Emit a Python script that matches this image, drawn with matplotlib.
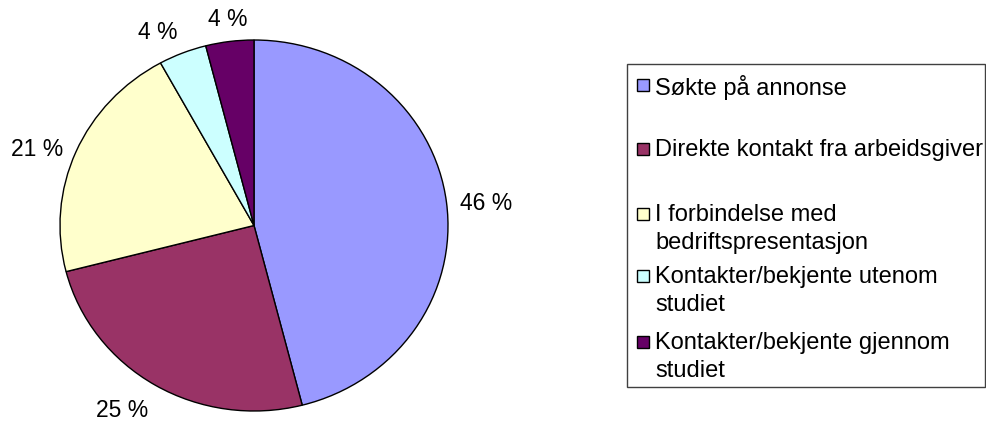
import numpy as np
import matplotlib
matplotlib.use('Agg')
import matplotlib.pyplot as plt
from matplotlib.patches import Rectangle


categories = [
    "Søkte på annonse",
    "Direkte kontakt fra arbeidsgiver",
    "I forbindelse med\nbedriftspresentasjon",
    "Kontakter/bekjente utenom\nstudiet",
    "Kontakter/bekjente gjennom\nstudiet",
]
shares = [46, 25, 21, 4, 4]
colors = ["#9999FF", "#993366", "#FFFFCC", "#CCFFFF", "#660066"]

W, H = 986, 425
plt.rcParams['font.family'] = ['Liberation Sans', 'DejaVu Sans']

fig = plt.figure(figsize=(W / 100, H / 100), dpi=100)


def fx(px):
    return px / W


def fy(py):
    return 1 - py / H


# pie area (slightly wider than tall, like the original)
left, top, right, bottom = 60, 40, 448, 411
ax = fig.add_axes([fx(left), fy(bottom), fx(right - left), (bottom - top) / H])
wedges, _ = ax.pie(shares, colors=colors, startangle=90, counterclock=False,
                   radius=1,
                   wedgeprops=dict(edgecolor='black', linewidth=1.0, clip_on=False))
ax.set_aspect('auto')
ax.set_xlim(-1, 1)
ax.set_ylim(-1, 1)
ax.axis('off')

# percentage labels just outside each slice
for w, val in zip(wedges, shares):
    mid = np.deg2rad((w.theta1 + w.theta2) / 2)
    cx, cy = np.cos(mid), np.sin(mid)
    ha = 'left' if cx > 0.3 else ('right' if cx < -0.3 else 'center')
    va = 'bottom' if cy > 0.5 else ('top' if cy < -0.5 else 'center')
    ax.text(1.07 * cx, 1.07 * cy - 0.015, f"{val} %", ha=ha, va=va,
            fontsize=16.5, color='black', clip_on=False)

# legend box drawn by hand to keep the Excel-like spacing
fig.add_artist(Rectangle((fx(627), fy(387)), fx(985 - 627), (387 - 64) / H,
                         transform=fig.transFigure, facecolor='white',
                         edgecolor='#404040', linewidth=1.0))
marker_y = [85, 149, 214, 276, 342]
for label, col, my in zip(categories, colors, marker_y):
    fig.add_artist(Rectangle((fx(637), fy(my + 6)), fx(12), 12 / H,
                             transform=fig.transFigure, facecolor=col,
                             edgecolor='black', linewidth=1.0))
    fig.text(fx(655), fy(my - 10), label, ha='left', va='top',
             fontsize=17, linespacing=1.33)

fig.savefig('out.png', dpi=100)
